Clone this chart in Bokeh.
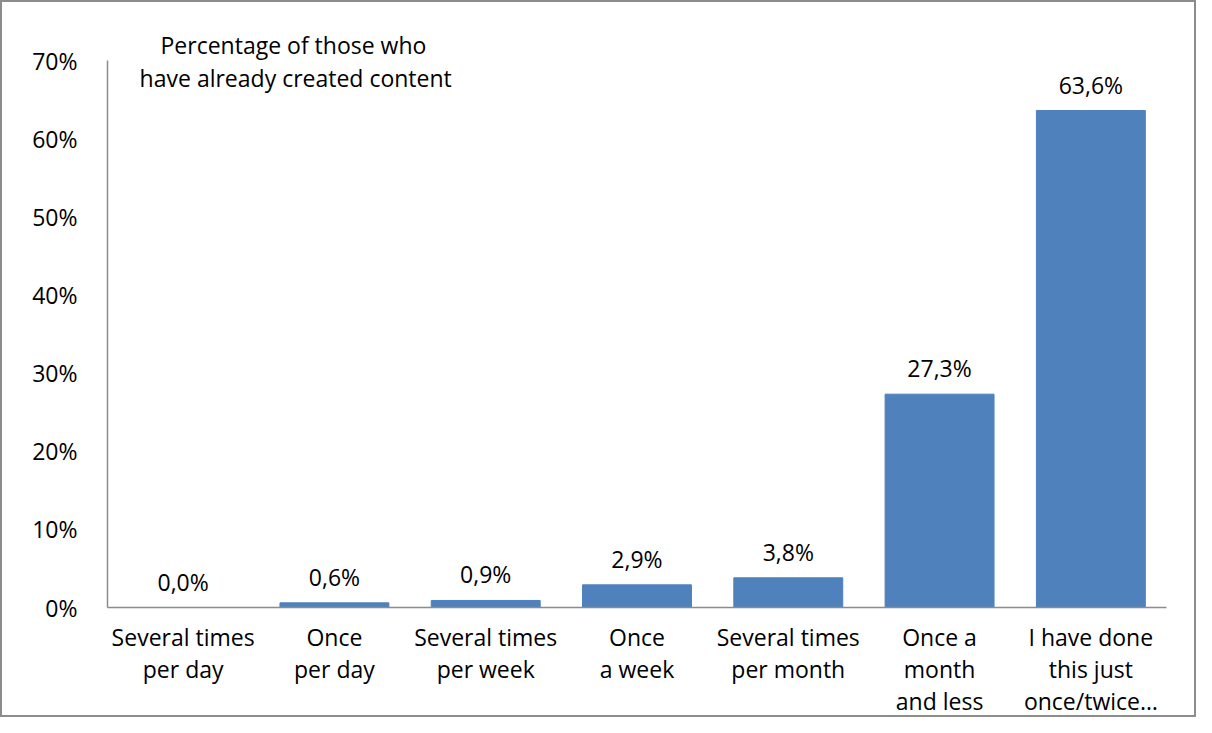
from bokeh.plotting import figure
from bokeh.models import Range1d, ColumnDataSource, Label, FixedTicker
from bokeh.embed import file_html
from bokeh.resources import INLINE
from bokeh.core.properties import value

categories = ["Several times\nper day", "Once\nper day", "Several times\nper week", "Once\na week",
              "Several times\nper month", "Once a\nmonth\nand less", "I have done\nthis just\nonce/twice…"]
values = [0.0, 0.6, 0.9, 2.9, 3.8, 27.3, 63.6]
value_labels = ["0,0%", "0,6%", "0,9%", "2,9%", "3,8%", "27,3%", "63,6%"]
y_ticks = [0, 10, 20, 30, 40, 50, 60, 70]
title_lines = ["Percentage of those who", "have already created content"]

FONT = "Open Sans"
FS = "23px"
W, H = 1196, 717

xs = [i + 0.5 for i in range(len(categories))]
src = ColumnDataSource(dict(x=xs, top=values, lab=value_labels))

p = figure(x_range=Range1d(0, len(categories)), y_range=Range1d(0, 70),
           width=W, height=H, output_backend="svg", toolbar_location=None,
           min_border_left=105, min_border_right=32, min_border_top=58, min_border_bottom=106)
p.outline_line_color = None
p.grid.grid_line_color = None

p.vbar(x="x", top="top", width=0.72, source=src, color="#4F81BD")
p.text(x="x", y="top", text="lab", source=src, text_align="center", text_baseline="bottom",
       y_offset=-10, text_font=value(FONT), text_font_size=FS, text_color="#000000")

for ax in (p.xaxis[0], p.yaxis[0]):
    ax.axis_line_color = "#8c8c8c"
    ax.axis_line_width = 1.5
    ax.major_tick_line_color = None
    ax.minor_tick_line_color = None
    ax.major_label_text_font = FONT
    ax.major_label_text_font_size = FS
    ax.major_label_text_color = "#000000"

p.xaxis.ticker = FixedTicker(ticks=xs)
p.xaxis.major_label_overrides = {x: c for x, c in zip(xs, categories)}
p.xaxis.major_label_standoff = 7
p.xaxis.major_label_text_line_height = 1.0
p.yaxis.ticker = FixedTicker(ticks=y_ticks)
p.yaxis.major_label_overrides = {t: f"{t}%" for t in y_ticks}
p.yaxis.major_label_standoff = 24

p.title.text = title_lines[0]
p.title.align = "left"
p.title.offset = 53
p.title.standoff = 0
p.title.text_font = FONT
p.title.text_font_size = FS
p.title.text_font_style = "normal"
p.title.text_color = "#000000"

p.add_layout(Label(x=1.244, y=67.7, text=title_lines[1],
                   text_align="center", text_baseline="middle", text_font=FONT,
                   text_font_size=FS, text_color="#000000"))

p.styles = {"border": "2px solid #8c8c8c", "box-sizing": "border-box"}

open("out.html", "w").write(file_html(p, INLINE))
